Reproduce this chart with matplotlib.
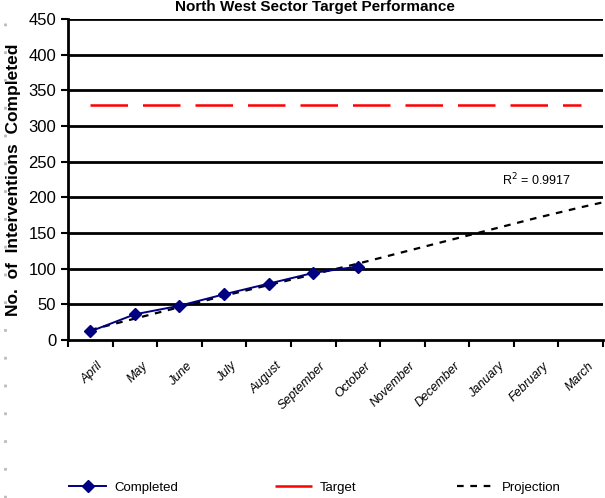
import numpy as np
import matplotlib.pyplot as plt
from matplotlib.lines import Line2D

# Monthly data (financial year April - March)
months = ['April', 'May', 'June', 'July', 'August', 'September', 'October',
          'November', 'December', 'January', 'February', 'March']
completed = [12, 36, 48, 64, 79, 94, 103]
target = 330
proj_pos = list(range(12)) + [11.5]
projection = [14, 30, 46, 62, 77, 92, 107, 123, 139, 155, 171, 186, 193]
r2_text = 'R$^2$ = 0.9917'

plt.rcParams['font.family'] = ['Liberation Sans Narrow', 'Liberation Sans', 'DejaVu Sans']

fig = plt.figure(figsize=(6.05, 4.98), dpi=100)
ax = fig.add_axes([0.1124, 0.3173, 0.8843, 0.6445])

# Gridlines
for v in range(50, 451, 50):
    ax.axhline(v, color='black', lw=2, zorder=1)

# Projection trendline
ax.plot(proj_pos, projection, color='black', lw=1.6, ls=(0, (3, 3)), zorder=2, label='Projection')
# Target
ax.plot(range(12), [target] * 12, color='#ff0000', lw=1.8, ls=(0, (15, 6)), zorder=3, label='Target')
# Completed
ax.plot(range(len(completed)), completed, color='#000080', lw=1.4, marker='D',
        markersize=6, zorder=4, label='Completed')

ax.text(10.0, 213, r2_text, fontsize=9, ha='center', va='bottom')

ax.set_xlim(-0.5, 11.5)
ax.set_ylim(0, 450)
ax.set_yticks(range(0, 451, 50))
ax.tick_params(axis='y', labelsize=12, length=5, width=1.5, direction='out')
ax.set_xticks(np.arange(-0.5, 12, 1))
ax.set_xticklabels([])
ax.tick_params(axis='x', length=5, width=1.5, direction='out')
for i, m in enumerate(months):
    ax.text(i + 0.15, -28, m, rotation=45, ha='right', va='top', fontsize=9,
            style='italic', rotation_mode='anchor')

for s in ['top', 'right']:
    ax.spines[s].set_visible(False)
ax.spines['left'].set_linewidth(2)
ax.spines['bottom'].set_linewidth(2)

ax.set_ylabel('No.  of  Interventions  Completed', fontsize=12.5, fontweight='bold',
              family=['Liberation Sans', 'DejaVu Sans'], labelpad=5)

fig.text(0.52, 1.0, 'North West Sector Target Performance', ha='center', va='top',
         fontsize=11, fontweight='bold', family=['Liberation Sans', 'DejaVu Sans'])

# Left border dots
fig.add_artist(Line2D([0.009, 0.009], [0.0, 1.0], color='#bbbbbb', lw=2,
                      ls=(0, (1, 9)), transform=fig.transFigure))

handles, labels = ax.get_legend_handles_labels()
anchors = {'Completed': 0.095, 'Target': 0.435, 'Projection': 0.735}
for h, lab in zip(handles, labels):
    fig.legend([h], [lab], loc='lower left', bbox_to_anchor=(anchors[lab], -0.015),
               frameon=False, fontsize=9.5, handlelength=2.8, handletextpad=0.6)

fig.savefig('out.png', dpi=100)
